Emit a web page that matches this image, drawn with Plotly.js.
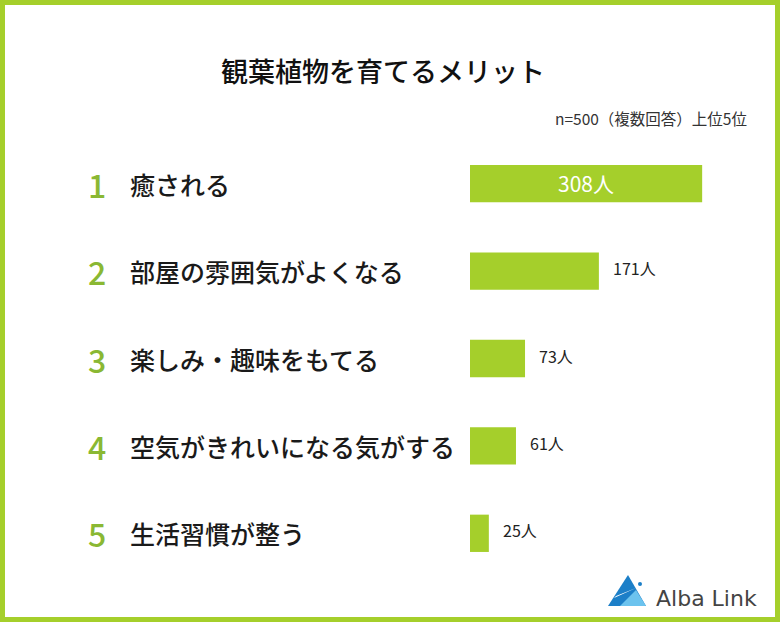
<!DOCTYPE html>
<html>
<head>
<meta charset="utf-8">
<script src="https://cdn.plot.ly/plotly-3.0.1.min.js"></script>
<style>
html,body{margin:0;padding:0;background:#fff;}
#chart{width:780px;height:622px;}
</style>
</head>
<body>
<div id="chart"></div>
<script>
// ---- data ----
const ranks = ["1", "2", "3", "4", "5"];
const categories = ["癒される", "部屋の雰囲気がよくなる", "楽しみ・趣味をもてる", "空気がきれいになる気がする", "生活習慣が整う"];
const values = [308, 171, 73, 61, 25];
const unit = "人";
const titleText = "観葉植物を育てるメリット";
const noteText = "n=500（複数回答）上位5位";
const brandText = "Alba Link";

// ---- layout helpers ----
const GREEN = "#a5cf2b";
const RANKGREEN = "#8ab833";
const FONT = "Noto Sans CJK JP";
const W = 780, H = 622;
const M = {l: 470, r: 10, t: 140, b: 45};
const PW = W - M.l - M.r, PH = H - M.t - M.b;
const px = p => (p - M.l) / PW;
const py = p => (H - M.b - p) / PH;

const annotations = [];
categories.forEach((c, i) => {
  annotations.push({xref: "paper", yref: "y", x: px(97), y: c, text: ranks[i],
    showarrow: false, xanchor: "center", yanchor: "middle",
    font: {family: FONT, size: 32, color: RANKGREEN, weight: 500}});
  annotations.push({xref: "paper", yref: "y", x: px(128), y: c, text: c,
    showarrow: false, xanchor: "left", yanchor: "middle",
    font: {family: FONT, size: 25, color: "#1a1a1a", weight: 500}});
  if (i === 0) {
    annotations.push({xref: "x", yref: "y", x: values[i] / 2, y: c, text: values[i] + unit,
      showarrow: false, xanchor: "center", yanchor: "middle", yshift: 1,
      font: {family: FONT, size: 21, color: "#fff"}});
  } else {
    annotations.push({xref: "x", yref: "y", x: values[i], y: c, text: values[i] + unit,
      showarrow: false, xanchor: "left", yanchor: "middle", xshift: 12, yshift: 3,
      font: {family: FONT, size: 16, color: "#222"}});
  }
});
annotations.push({xref: "paper", yref: "paper", x: px(749), y: py(118), text: noteText,
  showarrow: false, xanchor: "right", yanchor: "middle",
  font: {family: FONT, size: 15.5, color: "#333"}});
annotations.push({xref: "paper", yref: "paper", x: px(654), y: py(598), text: brandText,
  showarrow: false, xanchor: "left", yanchor: "middle",
  font: {family: "DejaVu Sans", size: 22, color: "#444"}});

const shapes = [
  // frame
  {type: "rect", xref: "paper", yref: "paper", x0: px(2.5), x1: px(777.5), y0: py(2.5), y1: py(619.5),
   line: {color: GREEN, width: 5}, fillcolor: "rgba(0,0,0,0)"},
  // logo triangle
  {type: "path", xref: "paper", yref: "paper",
   path: `M ${px(608)} ${py(606)} L ${px(628)} ${py(575)} L ${px(646)} ${py(606)} Z`,
   fillcolor: "#1c7fc8", line: {width: 0}},
  {type: "path", xref: "paper", yref: "paper",
   path: `M ${px(620)} ${py(606)} L ${px(636)} ${py(590)} L ${px(646)} ${py(606)} Z`,
   fillcolor: "#6cc3ee", line: {width: 0}},
  {type: "path", xref: "paper", yref: "paper",
   path: `M ${px(614)} ${py(598)} L ${px(636)} ${py(588)} L ${px(616)} ${py(596)} Z`,
   fillcolor: "#ffffff", line: {width: 0}},
  {type: "circle", xref: "paper", yref: "paper", x0: px(638), x1: px(642), y0: py(586), y1: py(582),
   fillcolor: "#1c7fc8", line: {width: 0}}
];

const trace = {
  type: "bar", orientation: "h", x: values, y: categories,
  marker: {color: GREEN}, width: 0.427, hoverinfo: "none"
};

const layout = {
  width: W, height: H,
  margin: {l: M.l, r: M.r, t: M.t, b: M.b},
  paper_bgcolor: "#fff", plot_bgcolor: "#fff",
  showlegend: false,
  title: {text: titleText, xref: "container", x: 383 / W, yref: "container", y: 1 - 73 / H,
    xanchor: "center", yanchor: "middle", font: {family: FONT, size: 27, color: "#111", weight: 500}},
  xaxis: {range: [0, 398], visible: false, fixedrange: true},
  yaxis: {type: "category", categoryorder: "array", categoryarray: categories,
    autorange: "reversed", visible: false, fixedrange: true},
  annotations: annotations,
  shapes: shapes
};

Plotly.newPlot("chart", [trace], layout, {displayModeBar: false, staticPlot: true});
</script>
</body>
</html>
